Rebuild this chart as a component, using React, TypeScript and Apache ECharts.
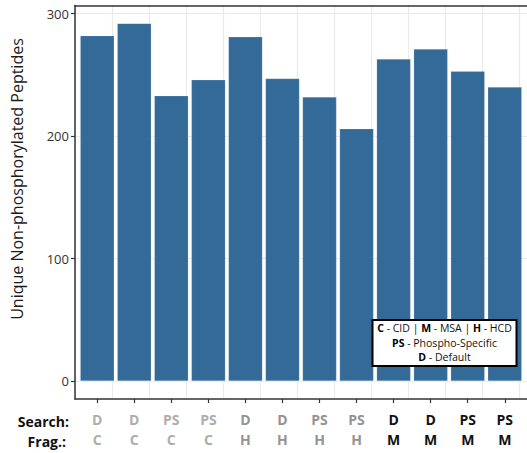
import React, { useEffect, useRef } from "react";
import * as echarts from "echarts";

const searchLabels = ["D", "D", "PS", "PS", "D", "D", "PS", "PS", "D", "D", "PS", "PS"];
const fragLabels = ["C", "C", "C", "C", "H", "H", "H", "H", "M", "M", "M", "M"];
const values = [282, 292, 233, 246, 281, 247, 232, 206, 263, 271, 253, 240];
const yTicks = [0, 100, 200, 300];
const yTitle = "Unique Non-phosphorylated Peptides";

const FONT = "'Open Sans', 'Noto Sans', sans-serif";
const idx = values.map((_, i) => i);

export default function App() {
  const ref = useRef<HTMLDivElement>(null);
  useEffect(() => {
    if (!ref.current) return;
    const chart = echarts.init(ref.current, null, { renderer: "svg" });
    const labelStyle = (color: string) => ({
      color,
      fontWeight: "bold",
      fontSize: 14,
      lineHeight: 20,
      fontFamily: FONT,
    });
    const legendText = (y: number, text: string) => ({
      type: "text",
      z: 101,
      x: 444.5,
      y,
      style: {
        text,
        fill: "#111111",
        fontSize: 10.5,
        fontFamily: FONT,
        align: "center",
        verticalAlign: "middle",
        rich: { b: { fontWeight: "bold", fontSize: 10.5, fontFamily: FONT, fill: "#000000" } },
      },
    });
    const xMin = -0.6;
    const xMax = values.length - 1 + 0.6;
    const grid = { left: 75, top: 5.5, width: 462, height: 393.5 };
    chart.setOption({
      animation: false,
      backgroundColor: "#ffffff",
      grid: grid,
      xAxis: [
        {
          type: "value",
          min: xMin,
          max: xMax,
          interval: 1,
          position: "bottom",
          z: 3,
          axisLine: { show: true, onZero: false, lineStyle: { color: "#333333", width: 1.5 } },
          axisTick: { show: true, customValues: idx, length: 4, lineStyle: { color: "#333333", width: 1.2 } },
          axisLabel: {
            show: true,
            customValues: idx,
            margin: 10,
            formatter: (v: number) => {
              if (!Number.isInteger(v) || v < 0 || v >= values.length) return "";
              const g = fragLabels[v].toLowerCase();
              return `{${g}|${searchLabels[v]}}\n{${g}|${fragLabels[v]}}`;
            },
            rich: {
              c: labelStyle("#adadad"),
              h: labelStyle("#939393"),
              m: labelStyle("#111111"),
            },
          },
          splitLine: { show: false },
        },
        {
          type: "value",
          min: xMin,
          max: xMax,
          interval: 1,
          position: "top",
          z: 3,
          axisLine: { show: true, onZero: false, lineStyle: { color: "#333333", width: 1.5 } },
          axisTick: { show: false },
          axisLabel: { show: false },
          splitLine: { show: false },
        },
        {
          type: "value",
          min: xMin,
          max: xMax,
          interval: 1,
          position: "bottom",
          z: 0,
          axisLine: { show: false, onZero: false },
          axisTick: { show: false },
          axisLabel: { show: false },
          splitLine: { show: true, lineStyle: { color: "#ebebeb", width: 1.2 } },
        },
      ],
      yAxis: {
        type: "value",
        min: -14.6,
        max: 306.6,
        interval: 50,
        z: 1,
        axisLine: { show: true, onZero: false, lineStyle: { color: "#333333", width: 1.5 } },
        axisTick: { show: true, customValues: yTicks, length: 4, lineStyle: { color: "#333333", width: 1.2 } },
        axisLabel: {
          show: true,
          customValues: yTicks,
          margin: 6,
          color: "#333333",
          fontSize: 13,
          fontFamily: FONT,
          formatter: (v: number) => (yTicks.indexOf(v) >= 0 ? String(v) : ""),
        },
        splitLine: { show: true, lineStyle: { color: "#ebebeb", width: 1.2 } },
      },
      graphic: [
        {
          type: "text",
          x: 17,
          y: 179,
          rotation: Math.PI / 2,
          style: {
            text: yTitle,
            fill: "#1a1a1a",
            fontSize: 16,
            fontFamily: FONT,
            align: "center",
            verticalAlign: "middle",
          },
        },
        {
          type: "text",
          x: 69,
          y: 421,
          style: {
            text: "Search:",
            fill: "#111111",
            fontSize: 14,
            fontWeight: "bold",
            fontFamily: FONT,
            align: "right",
            verticalAlign: "middle",
          },
        },
        {
          type: "text",
          x: 66,
          y: 441,
          style: {
            text: "Frag.:",
            fill: "#111111",
            fontSize: 14,
            fontWeight: "bold",
            fontFamily: FONT,
            align: "right",
            verticalAlign: "middle",
          },
        },
        {
          type: "rect",
          z: 100,
          shape: { x: 372.5, y: 320, width: 144, height: 46 },
          style: { fill: "#ffffff", stroke: "#000000", lineWidth: 2 },
        },
        legendText(328, "{b|C} - CID | {b|M} - MSA | {b|H} - HCD"),
        legendText(343, "{b|PS} - Phospho-Specific"),
        legendText(357, "{b|D} - Default"),
      ],
      series: [
        {
          type: "bar",
          xAxisIndex: 0,
          yAxisIndex: 0,
          barWidth: 34,
          data: values.map((v, i) => [i, v]),
          itemStyle: { color: "#336a98", borderColor: "rgba(255,255,255,0.35)", borderWidth: 0.5 },
        },
      ],
    });
    return () => chart.dispose();
  }, []);
  return (
    <div
      ref={ref}
      style={{ position: "fixed", left: 0, top: 0, width: 527, height: 453 }}
    />
  );
}
